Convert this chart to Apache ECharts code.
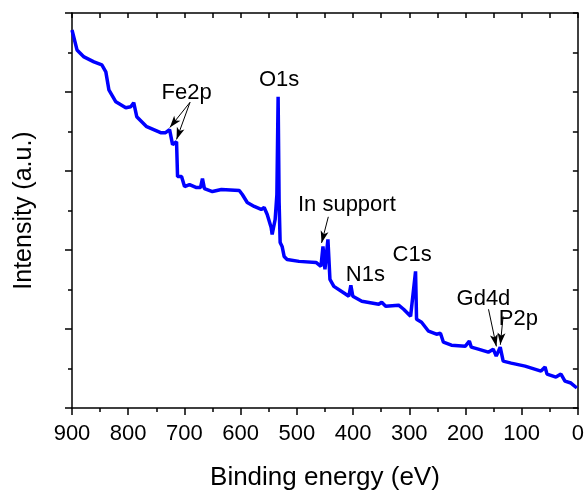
<!DOCTYPE html>
<html>
<head>
<meta charset="utf-8">
<script src="https://cdn.jsdelivr.net/npm/echarts@6/dist/echarts.min.js"></script>
<style>
  html, body { margin: 0; padding: 0; background: #fff; }
  #xps { width: 587px; height: 496px; }
</style>
</head>
<body>
<div id="xps"></div>
<script>
// binding energy (eV)
var energy = [900, 891.1, 878.7, 861.0, 846.9, 839.8, 834.4, 822.0, 804.3, 795.5, 790.2, 784.8,
    767.1, 742.3, 733.5, 726.4, 721.1, 714.0, 712.2, 705.1, 699.8, 690.9, 678.5, 671.4, 667.9,
    664.4, 650.2, 634.2, 602.4, 597.0, 588.2, 575.8, 563.4, 558.1, 552.7, 545.7, 543.9, 538.6,
    535.5, 533.3, 531.5, 529.7, 526.2, 522.6, 517.3, 496.1, 465.9, 457.1, 453.5, 450.0, 444.7,
    441.1, 434.1, 412.8, 407.5, 403.9, 400.4, 384.4, 354.3, 349.0, 341.9, 318.9, 310.0, 297.6,
    288.8, 287.0, 278.1, 265.7, 251.6, 244.5, 239.2, 225.0, 200.2, 193.1, 189.6, 177.1, 159.4,
    150.6, 145.3, 138.2, 132.9, 118.7, 93.9, 65.6, 58.4, 54.9, 39.0, 30.1, 23.0, 12.4, 1.8];
// intensity (a.u.)
var intensity = [4.785, 4.533, 4.444, 4.381, 4.343, 4.255, 4.028, 3.876, 3.801, 3.813, 3.864, 3.687,
    3.561, 3.485, 3.485, 3.523, 3.333, 3.371, 2.929, 2.929, 2.803, 2.828, 2.790, 2.790, 2.904,
    2.778, 2.740, 2.765, 2.753, 2.702, 2.601, 2.551, 2.513, 2.538, 2.449, 2.285, 2.197, 2.386,
    2.700, 3.939, 2.600, 2.096, 2.045, 1.919, 1.881, 1.856, 1.843, 1.793, 2.045, 1.755, 2.134,
    1.629, 1.540, 1.439, 1.414, 1.553, 1.414, 1.351, 1.313, 1.338, 1.288, 1.301, 1.250, 1.162,
    1.730, 1.124, 1.086, 0.972, 0.934, 0.947, 0.833, 0.795, 0.783, 0.846, 0.770, 0.745, 0.707,
    0.745, 0.657, 0.770, 0.593, 0.568, 0.530, 0.467, 0.518, 0.429, 0.391, 0.429, 0.341, 0.316, 0.253];

var xTicks = [0, 100, 200, 300, 400, 500, 600, 700, 800, 900];

// peak labels: [text, eV, intensity]
var peakLabels = [
    ['Fe2p', 696, 3.99],
    ['O1s', 531.5, 4.15],
    ['In support', 411, 2.57],
    ['N1s', 378, 1.69],
    ['C1s', 295, 1.94],
    ['Gd4d', 168, 1.38],
    ['P2p', 106, 1.13]
];
// arrows: [fromEV, fromY, toEV, toY]
var arrows = [
    [690, 3.87, 726, 3.55],
    [690, 3.87, 714, 3.40],
    [444, 2.42, 456, 2.09],
    [159, 1.25, 145, 0.78],
    [133, 1.16, 138, 0.80]
];

var series = [];
for (var i = 0; i < energy.length; i++) {
    series.push([energy[i], intensity[i]]);
}

var chart = echarts.init(document.getElementById('xps'));
var font = 'Liberation Sans, Arial, sans-serif';
var black = { color: '#000', width: 1.5 };

var option = {
    animation: false,
    grid: { left: 72, right: 7, top: 13, bottom: 87 },
    xAxis: [
        {
            type: 'value', inverse: true, min: 0, max: 900, interval: 100,
            name: 'Binding energy (eV)', nameLocation: 'middle', nameGap: 57,
            nameTextStyle: { color: '#000', fontSize: 26, fontFamily: font },
            axisLine: { onZero: false, lineStyle: black },
            axisTick: { length: 7, lineStyle: black },
            minorTick: { show: true, splitNumber: 2, length: 4, lineStyle: black },
            axisLabel: {
                color: '#000', fontSize: 22, fontFamily: font, margin: 15,
                formatter: function (v) { return xTicks.indexOf(v) >= 0 ? String(v) : ''; }
            },
            splitLine: { show: false }
        },
        {
            type: 'value', position: 'top', inverse: true, min: 0, max: 900, interval: 100,
            axisLine: { onZero: false, lineStyle: black },
            axisTick: { inside: true, length: 5, lineStyle: black },
            minorTick: { show: true, splitNumber: 2, length: 5, lineStyle: black },
            axisLabel: { show: false },
            splitLine: { show: false }
        }
    ],
    yAxis: [
        {
            type: 'value', position: 'left', min: 0, max: 5, interval: 1,
            name: 'Intensity (a.u.)', nameLocation: 'middle', nameGap: 35,
            nameTextStyle: { color: '#000', fontSize: 25, fontFamily: font },
            axisLine: { show: true, onZero: false, lineStyle: black },
            axisTick: { length: 7, lineStyle: black },
            minorTick: { show: true, splitNumber: 2, length: 4, lineStyle: black },
            axisLabel: { show: false },
            splitLine: { show: false }
        },
        {
            type: 'value', position: 'right', min: 0, max: 5, interval: 1,
            axisLine: { show: true, onZero: false, lineStyle: black },
            axisTick: { inside: true, length: 5, lineStyle: black },
            minorTick: { show: true, splitNumber: 2, length: 5, lineStyle: black },
            axisLabel: { show: false },
            splitLine: { show: false }
        }
    ],
    series: [
        {
            type: 'line',
            data: series,
            symbol: 'none',
            lineStyle: { color: '#0000ff', width: 3.5 },
            markPoint: {
                symbol: 'circle',
                symbolSize: 0,
                label: {
                    show: true, position: 'inside', color: '#000', fontSize: 22, fontFamily: font,
                    formatter: function (p) { return p.name; }
                },
                data: peakLabels.map(function (d) {
                    return { name: d[0], coord: [d[1], d[2]] };
                })
            },
            markLine: {
                silent: true,
                symbolSize: [6, 12],
                lineStyle: { color: '#000', width: 1, type: 'solid' },
                label: { show: false },
                data: arrows.map(function (a) {
                    return [
                        { coord: [a[0], a[1]], symbol: 'none' },
                        { coord: [a[2], a[3]], symbol: 'arrow' }
                    ];
                })
            }
        }
    ]
};
chart.setOption(option);
</script>
</body>
</html>
